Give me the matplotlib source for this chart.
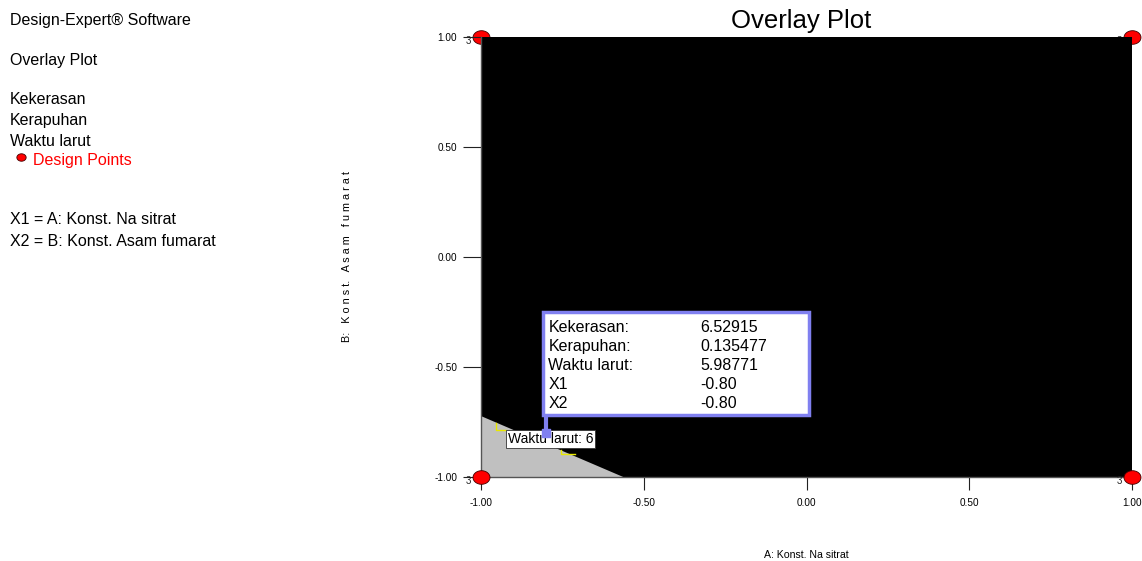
import numpy as np
import matplotlib
matplotlib.use("Agg")
import matplotlib.pyplot as plt
from matplotlib.patches import Rectangle

plt.rcParams["font.family"] = ["Liberation Sans", "DejaVu Sans"]

# Design points (corners of the coded region) and replicate counts
design_x = [-1.0, 1.0, -1.0, 1.0]
design_y = [1.0, 1.0, -1.0, -1.0]
design_reps = ["3", "3", "3", "3"]

# Feasible (grey) window bounded by the overlay contours
grey_x = [-1.0, -1.0, -0.563]
grey_y = [-1.0, -0.723, -1.0]

# Bits of the Waktu larut = 6 contour that show through
contour1_x = [-0.954, -0.954, -0.923]
contour1_y = [-0.755, -0.786, -0.786]
contour2_x = [-0.754, -0.754, -0.711]
contour2_y = [-0.877, -0.895, -0.895]

# Flag point and its readout
flag_x = -0.80
flag_y = -0.80
flag_names = ["Kekerasan:", "Kerapuhan:", "Waktu larut:", "X1", "X2"]
flag_values = ["6.52915", "0.135477", "5.98771", "-0.80", "-0.80"]

ticks = [-1.0, -0.5, 0.0, 0.5, 1.0]
tick_labels = ["-1.00", "-0.50", "0.00", "0.50", "1.00"]

fig = plt.figure(figsize=(11.42, 5.61), dpi=100)
ax = fig.add_axes([481 / 1142, 1 - 477 / 561, 651 / 1142, 440 / 561])

# black everywhere outside the sweet spot
ax.add_patch(Rectangle((-1, -1), 2, 2, facecolor="black", lw=0, zorder=3))
ax.fill(grey_x, grey_y, color="#c0c0c0", zorder=3.5, lw=0)
ax.plot(contour1_x, contour1_y, color="#e8e800", lw=1, zorder=4)
ax.plot(contour2_x, contour2_y, color="#e8e800", lw=1, zorder=4)

# ellipse-shaped marker like the original
t = np.linspace(0, 2 * np.pi, 40)
ell = np.column_stack([1.25 * np.cos(t), np.sin(t)])
for xx, yy, rep in zip(design_x, design_y, design_reps):
    z = 1.5 if yy > 0 else 6
    ax.scatter([xx], [yy], marker=ell, s=150, color="red", edgecolor="#400000",
               linewidth=0.6, zorder=z, clip_on=False)
    ax.annotate(rep, (xx, yy), xytext=(-11, -3), textcoords="offset points",
                fontsize=7, color="#222222", ha="left", va="center", zorder=z,
                annotation_clip=False)

ax.set_xlim(-1, 1)
ax.set_ylim(-1, 1)
ax.set_xticks(ticks)
ax.set_xticklabels(tick_labels)
ax.set_yticks(ticks)
ax.set_yticklabels(tick_labels)
ax.tick_params(axis="y", length=13, width=0.8, pad=4, labelsize=7.2, color="#222222")
ax.tick_params(axis="x", length=9, width=0.8, pad=6, labelsize=7.2, color="#222222")
for s in ["top", "right"]:
    ax.spines[s].set_visible(False)
for s in ["left", "bottom"]:
    ax.spines[s].set_color("#555555")
    ax.spines[s].set_linewidth(1)
    ax.spines[s].set_zorder(5)

# flag readout
ax.plot([flag_x, flag_x], [flag_y, flag_y + 0.08], color="#8080f0", lw=3, zorder=7)
ax.scatter([flag_x], [flag_y], marker="s", s=40, color="#8080f0", zorder=8)
box = Rectangle((0.0952, 0.141), 0.409, 0.234, transform=ax.transAxes,
                facecolor="white", edgecolor="#8080f0", lw=2.5, zorder=7)
ax.add_patch(box)
for i, (nm, val) in enumerate(zip(flag_names, flag_values)):
    yy = 0.340 - i * 0.0432
    ax.text(0.1035, yy, nm, transform=ax.transAxes, fontsize=11.5, va="center", zorder=8)
    ax.text(0.337, yy, val, transform=ax.transAxes, fontsize=11.5, va="center", zorder=8)

ax.text(0.0415, 0.086, "Waktu larut: 6", transform=ax.transAxes, fontsize=10,
        va="center", ha="left", zorder=7,
        bbox=dict(boxstyle="square,pad=0.12", facecolor="white", edgecolor="#333333", lw=0.6))

fig.text(801 / 1142, 1 - 21 / 561, "Overlay Plot", fontsize=18.5, ha="center", va="center")
fig.text(806 / 1142, 1 - 555 / 561, "A: Konst. Na sitrat", fontsize=7.6, ha="center", va="center")
fig.text(347 / 1142, 1 - 256 / 561, "B:   K o n s t.   A s a m   f u m a r a t", fontsize=7.8,
         rotation=90, ha="center", va="center")

# side notes
left = 10 / 1142
notes = [("Design-Expert\u00ae Software", 21), ("Overlay Plot", 61), ("Kekerasan", 100),
         ("Kerapuhan", 121), ("Waktu larut", 141),
         ("X1 = A: Konst. Na sitrat", 219), ("X2 = B: Konst. Asam fumarat", 241)]
for txt, py in notes:
    fig.text(left, 1 - py / 561, txt, fontsize=11.5, va="center")
fig.text(33 / 1142, 1 - 160 / 561, "Design Points", fontsize=11.5, color="red", va="center")
ax.scatter([21 / 1142], [1 - 157 / 561], marker=ell, s=45, color="red", edgecolor="#400000",
           linewidth=0.6, transform=fig.transFigure, clip_on=False, zorder=9)

fig.savefig("out.png", dpi=100)
